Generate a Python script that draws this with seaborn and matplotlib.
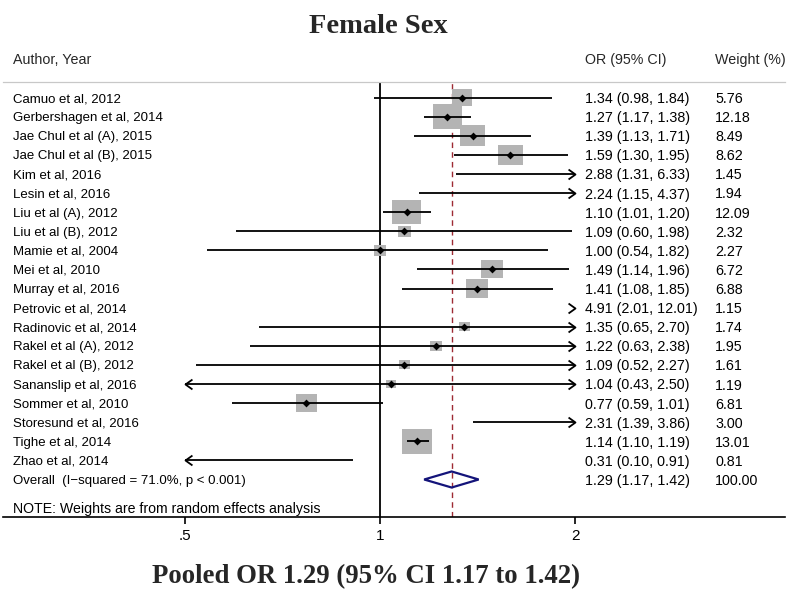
import numpy as np
import pandas as pd
import matplotlib
matplotlib.use("Agg")
import matplotlib.pyplot as plt
import matplotlib.transforms as mtransforms
from matplotlib.path import Path
from matplotlib.patches import Polygon
from matplotlib.ticker import NullLocator
import seaborn as sns

# ---------------- data ----------------
studies = [
    "Camuo et al, 2012", "Gerbershagen et al, 2014", "Jae Chul et al (A), 2015",
    "Jae Chul et al (B), 2015", "Kim et al, 2016", "Lesin et al, 2016",
    "Liu et al (A), 2012", "Liu et al (B), 2012", "Mamie et al, 2004",
    "Mei et al, 2010", "Murray et al, 2016", "Petrovic et al, 2014",
    "Radinovic et al, 2014", "Rakel et al (A), 2012", "Rakel et al (B), 2012",
    "Sananslip et al, 2016", "Sommer et al, 2010", "Storesund et al, 2016",
    "Tighe et al, 2014", "Zhao et al, 2014",
]
odds_ratio = [1.34, 1.27, 1.39, 1.59, 2.88, 2.24, 1.10, 1.09, 1.00, 1.49,
              1.41, 4.91, 1.35, 1.22, 1.09, 1.04, 0.77, 2.31, 1.14, 0.31]
ci_low = [0.98, 1.17, 1.13, 1.30, 1.31, 1.15, 1.01, 0.60, 0.54, 1.14,
          1.08, 2.01, 0.65, 0.63, 0.52, 0.43, 0.59, 1.39, 1.10, 0.10]
ci_high = [1.84, 1.38, 1.71, 1.95, 6.33, 4.37, 1.20, 1.98, 1.82, 1.96,
           1.85, 12.01, 2.70, 2.38, 2.27, 2.50, 1.01, 3.86, 1.19, 0.91]
weights = [5.76, 12.18, 8.49, 8.62, 1.45, 1.94, 12.09, 2.32, 2.27, 6.72,
           6.88, 1.15, 1.74, 1.95, 1.61, 1.19, 6.81, 3.00, 13.01, 0.81]

overall_label = "Overall  (I\u2212squared = 71.0%, p < 0.001)"
overall_or = 1.29
overall_low = 1.17
overall_high = 1.42
overall_weight = 100.00

tick_values = [0.5, 1, 2]
tick_labels = [".5", "1", "2"]
clip_range = (0.5, 2.0)

title = "Female Sex"
note = "NOTE: Weights are from random effects analysis"

# ---------------- style ----------------
sns.set_theme(style="white")
plt.rcParams["font.family"] = ["Liberation Sans", "DejaVu Sans"]

W, H = 791, 589
fig = plt.figure(figsize=(W / 100, H / 100), dpi=100)


def fx(p):
    return p / W


def fy(p):
    return 1 - p / H


row0, row_step = 97.5, 19.1          # pixel y of first row, row spacing
ax_top_px, ax_bot_px = 82.0, 516.5
x_one_px, px_per_oct = 380.0, 195.0  # pixel of x=1, pixels per doubling

ax = fig.add_axes([fx(3), fy(ax_bot_px), fx(785) - fx(3), fy(ax_top_px) - fy(ax_bot_px)])
ax.set_xscale("log", base=2)
ax.set_xlim(2 ** ((3 - x_one_px) / px_per_oct), 2 ** ((785 - x_one_px) / px_per_oct))
ax.set_ylim((ax_bot_px - row0) / row_step, (ax_top_px - row0) / row_step)

df = pd.DataFrame({"study": studies, "OR": odds_ratio, "lo": ci_low,
                   "hi": ci_high, "w": weights})
df["row"] = np.arange(len(df), dtype=float)
overall_row = float(len(df))

lo_c, hi_c = clip_range
vis = df[(df["OR"] >= lo_c) & (df["OR"] <= hi_c)]

# weight boxes (slightly wider than tall, area proportional to weight)
rect = Path([(-0.6, -0.5), (0.6, -0.5), (0.6, 0.5), (-0.6, 0.5), (-0.6, -0.5)],
            [Path.MOVETO, Path.LINETO, Path.LINETO, Path.LINETO, Path.CLOSEPOLY])
k = 36.6
wmin, wmax = vis["w"].min(), vis["w"].max()
sns.scatterplot(data=vis, x="OR", y="row", size="w", sizes=(k * wmin, k * wmax),
                size_norm=(wmin, wmax), marker=rect, color="#b4b4b4",
                linewidth=0, legend=False, ax=ax, zorder=2)

# confidence-interval lines and arrows
lw_ci = 1.3
a = df["lo"].clip(lower=lo_c)
b = df["hi"].clip(upper=hi_c)
ok = a < b
ax.hlines(df.loc[ok, "row"], a[ok], b[ok], color="black", lw=lw_ci, zorder=3)

chev_r = Path([(-1.4, 1.0), (0.0, 0.0), (-1.4, -1.0)],
              [Path.MOVETO, Path.LINETO, Path.LINETO])
chev_l = Path([(1.4, 1.0), (0.0, 0.0), (1.4, -1.0)],
              [Path.MOVETO, Path.LINETO, Path.LINETO])
right = df[df["hi"] > hi_c]
left = df[df["lo"] < lo_c]
ax.plot(np.full(len(right), hi_c), right["row"], ls="none", marker=chev_r,
        markersize=10, markerfacecolor="none", markeredgecolor="black",
        markeredgewidth=lw_ci, zorder=3)
ax.plot(np.full(len(left), lo_c), left["row"], ls="none", marker=chev_l,
        markersize=10, markerfacecolor="none", markeredgecolor="black",
        markeredgewidth=lw_ci, zorder=3)

# point estimates
sns.scatterplot(data=vis, x="OR", y="row", marker="D", s=16, color="black",
                linewidth=0, legend=False, ax=ax, zorder=4)

# reference lines
ax.axvline(1, color="black", lw=1.3, zorder=1)
ax.axvline(overall_or, color="#9e2a33", lw=1.0, ls=(0, (4, 3)), zorder=1)

# overall diamond
h = 0.42
ax.add_patch(Polygon([(overall_low, overall_row), (overall_or, overall_row - h),
                      (overall_high, overall_row), (overall_or, overall_row + h)],
                     closed=True, fill=False, edgecolor="#14147a", lw=1.6, zorder=4))

# axes styling
for s in ("left", "right"):
    ax.spines[s].set_visible(False)
ax.spines["top"].set_color("#c8c8c8")
ax.spines["top"].set_linewidth(0.9)
ax.spines["bottom"].set_color("black")
ax.spines["bottom"].set_linewidth(1.2)
ax.set_xticks(tick_values)
ax.set_xticklabels(tick_labels)
ax.xaxis.set_minor_locator(NullLocator())
ax.set_yticks([])
ax.tick_params(axis="x", direction="out", length=5, width=1.2, pad=4,
               labelsize=11, colors="black", bottom=True)
ax.set_xlabel("")
ax.set_ylabel("")

# text columns
tr = mtransforms.blended_transform_factory(fig.transFigure, ax.transData)
lab_size, num_size = 9.5, 10.3
va = "center_baseline"
for _, r in df.iterrows():
    ax.text(fx(13), r["row"], r["study"], transform=tr, ha="left", va=va,
            fontsize=lab_size, color="black")
    ax.text(fx(585), r["row"], f"{r['OR']:.2f} ({r['lo']:.2f}, {r['hi']:.2f})",
            transform=tr, ha="left", va=va, fontsize=num_size, color="black")
    ax.text(fx(715), r["row"], f"{r['w']:.2f}", transform=tr, ha="left",
            va=va, fontsize=num_size, color="black")

ax.text(fx(13), overall_row, overall_label, transform=tr, ha="left", va=va,
        fontsize=lab_size, color="black")
ax.text(fx(585), overall_row, f"{overall_or:.2f} ({overall_low:.2f}, {overall_high:.2f})",
        transform=tr, ha="left", va=va, fontsize=num_size, color="black")
ax.text(fx(715), overall_row, f"{overall_weight:.2f}", transform=tr, ha="left",
        va=va, fontsize=num_size, color="black")

fig.text(fx(13), fy(507), note, ha="left", va=va, fontsize=10.2, color="black")

fig.text(fx(13), fy(58.5), "Author, Year", ha="left", va=va, fontsize=10.3)
fig.text(fx(585), fy(58.5), "OR (95% CI)", ha="left", va=va, fontsize=10.3)
fig.text(fx(715), fy(58.5), "Weight (%)", ha="left", va=va, fontsize=10.3)

fig.text(fx(378), fy(33), title, ha="center", va="baseline",
         family=["Liberation Serif", "DejaVu Serif"], fontweight="bold", fontsize=20.5)
fig.text(fx(366.5), fy(583),
         f"Pooled OR {overall_or:.2f} (95% CI {overall_low:.2f} to {overall_high:.2f})",
         ha="center", va="baseline", family=["Liberation Serif", "DejaVu Serif"],
         fontweight="bold", fontsize=19.3)

fig.savefig("out.png", dpi=100, facecolor="white")
